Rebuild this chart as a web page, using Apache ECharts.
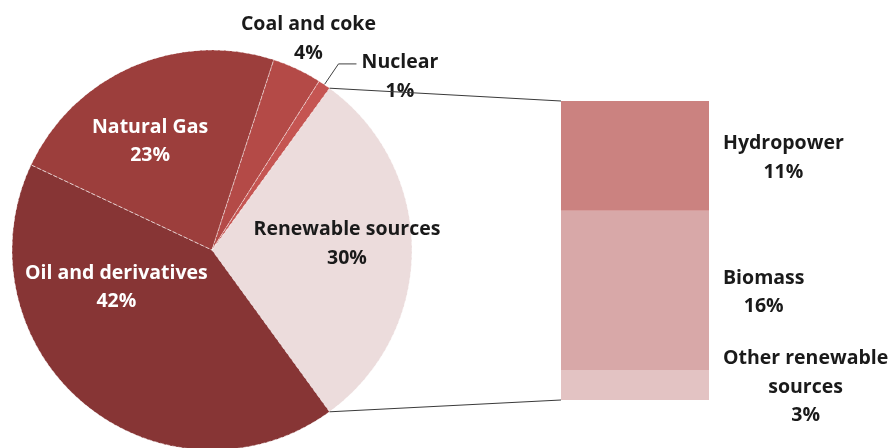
<!DOCTYPE html>
<html><head><meta charset="utf-8">
<script src="https://cdn.jsdelivr.net/npm/echarts@6/dist/echarts.min.js"></script>
<style>html,body{margin:0;padding:0;background:#fff}#c{width:892px;height:448px}</style>
</head><body><div id="c"></div>
<script>
// ---- data ----
const pieNames = ['Renewable sources', 'Oil and derivatives', 'Natural Gas', 'Coal and coke', 'Nuclear'];
const pieValues = [30, 42, 23, 4, 1];
const barNames = ['Other renewable sources', 'Biomass', 'Hydropower'];
const barLabelLines = [['Other renewable', 'sources'], ['Biomass'], ['Hydropower']];
const barValues = [3, 16, 11];

// ---- style ----
const pieColors = ['#ecdcdc', '#873535', '#9c3e3c', '#b44a47', '#c55552'];
const barColors = ['#e3c3c3', '#d8a8a8', '#cb8280'];
const pieLabelColors = ['#1a1a1a', '#ffffff', '#ffffff', '#1a1a1a', '#1a1a1a'];
const FONT = '"Open Sans", sans-serif';
const FS = 19.5, LH = 28.5;
const TXT = '#1a1a1a';
const PIE_CENTER = [212, 250], PIE_R = 200;
const pieLabelShift = { 0: [32, -6], 1: [-30, -42], 2: [-21, -14], 3: [-66, -21] };

const ctx = document.createElement('canvas').getContext('2d');
ctx.font = 'bold ' + FS + 'px ' + FONT;
const tw = s => ctx.measureText(s).width;

const total = pieValues.reduce((a, b) => a + b, 0);
const renewableShare = pieValues[0] / total;
const startAngle = renewableShare * 180;
const renewableTotal = barValues.reduce((a, b) => a + b, 0);

const chart = echarts.init(document.getElementById('c'), null, { renderer: 'canvas' });

const pieData = pieNames.map((n, i) => {
  const outside = i >= 3;
  const item = {
    name: n, value: pieValues[i],
    itemStyle: { color: pieColors[i] },
    label: { position: outside ? 'outside' : 'inside', color: pieLabelColors[i] },
    labelLine: { show: false }
  };
  if (outside) {
    const w = Math.ceil(tw(n));
    item.label.formatter = '{a|{b}}\n{a|{c}%}';
    item.label.rich = { a: { width: w, align: 'center', fontFamily: FONT, fontWeight: 'bold', fontSize: FS, lineHeight: LH, color: TXT } };
  }
  if (i === 4) {
    item.label.padding = [26, 0, 0, 0];
    item.labelLine = { show: true, length: 25, length2: 18, lineStyle: { color: '#404040', width: 1 } };
  }
  if (i === 3) {
    item.labelLine = { show: false, length: 10, length2: 0 };
  }
  return item;
});

const barSeries = barNames.map((n, i) => {
  const lines = barLabelLines[i];
  const w = Math.max(...lines.map(tw));
  return {
    type: 'bar', name: n, stack: 'r', xAxisIndex: 0, yAxisIndex: 0,
    barWidth: '100%',
    data: [barValues[i]],
    itemStyle: { color: barColors[i] },
    label: {
      show: true, position: 'right', align: 'center', distance: 14 + w / 2, offset: [0, 2],
      formatter: () => lines.join('\n') + '\n' + barValues[i] + '%',
      fontFamily: FONT, fontWeight: 'bold', fontSize: FS, lineHeight: LH, color: TXT
    }
  };
});

chart.setOption({
  animation: false,
  backgroundColor: '#ffffff',
  grid: { left: 561, top: 101, width: 148, height: 299 },
  xAxis: { type: 'category', data: ['Renewable sources'], show: false },
  yAxis: { type: 'value', min: 0, max: renewableTotal, show: false },
  series: [{
    type: 'pie',
    center: PIE_CENTER, radius: PIE_R,
    startAngle: startAngle, clockwise: true,
    avoidLabelOverlap: false,
    itemStyle: { borderColor: 'rgba(255,255,255,0.55)', borderWidth: 1, borderType: 'dashed' },
    label: {
      show: true, formatter: '{b}\n{c}%',
      fontFamily: FONT, fontWeight: 'bold', fontSize: FS, lineHeight: LH
    },
    labelLine: { show: false },
    emphasis: { disabled: true },
    labelLayout: function (p) {
      const s = pieLabelShift[p.dataIndex];
      if (!s) return {};
      return { dx: s[0], dy: s[1] };
    },
    data: pieData
  }].concat(barSeries)
});

// connector lines from renewable slice edges to the bar (added directly to avoid a relayout)
const a = startAngle * Math.PI / 180;
const px = PIE_CENTER[0] + PIE_R * Math.cos(a);
const pyTop = PIE_CENTER[1] - PIE_R * Math.sin(a);
const pyBot = PIE_CENTER[1] + PIE_R * Math.sin(a);
const rect = chart.getModel().getComponent('grid', 0).coordinateSystem.getRect();
const yTop = chart.convertToPixel({ yAxisIndex: 0 }, renewableTotal);
const yBot = chart.convertToPixel({ yAxisIndex: 0 }, 0);
const zr = chart.getZr();
[[pyTop, yTop], [pyBot, yBot]].forEach(([y1, y2]) => {
  zr.add(new echarts.graphic.Line({
    z: 100,
    shape: { x1: px, y1: y1, x2: rect.x, y2: y2 },
    style: { stroke: '#3a3a3a', lineWidth: 1 }
  }));
});
</script>
</body></html>
